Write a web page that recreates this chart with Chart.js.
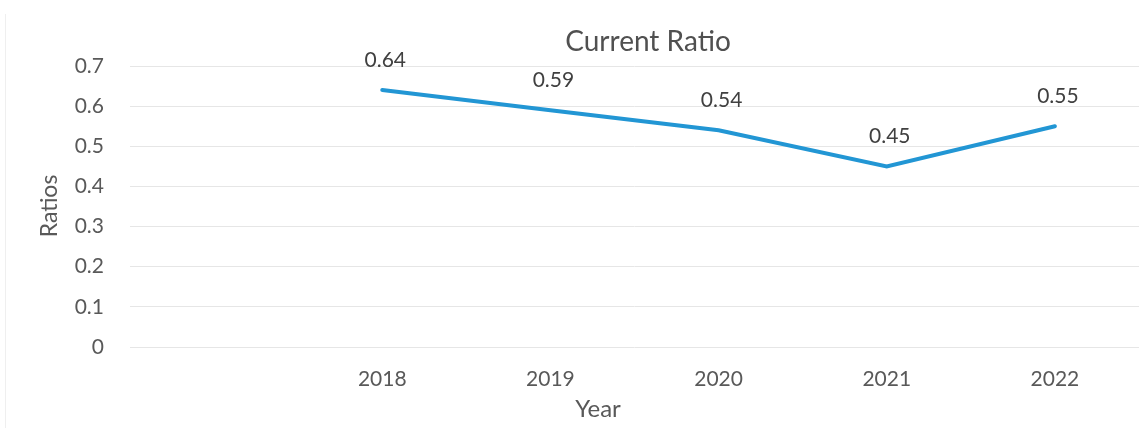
<!DOCTYPE html>
<html>
<head>
<meta charset="utf-8">
<script src="https://cdn.jsdelivr.net/npm/chart.js@4/dist/chart.umd.min.js"></script>
<style>
  html, body { margin: 0; padding: 0; background: #fff; }
  #wrap { width: 1139px; height: 428px; }
</style>
</head>
<body>
<div id="wrap"><canvas id="graph" width="1139" height="428"></canvas></div>
<script>
// first slot is left blank on purpose, the series starts one category in
const years = ['', '2018', '2019', '2020', '2021', '2022'];
const ratios = [null, 0.64, 0.59, 0.54, 0.45, 0.55];
const yTicks = [0, 0.1, 0.2, 0.3, 0.4, 0.5, 0.6, 0.7];

const FONT = 'Lato, "Open Sans", sans-serif';

// titles, point labels and the frame are drawn by hand
const textPlugin = {
    id: 'texts',
    afterDatasetsDraw(chart) {
        const ctx = chart.ctx;
        const meta = chart.getDatasetMeta(0);
        ctx.save();
        ctx.fillStyle = '#404040';
        ctx.textAlign = 'center';
        ctx.textBaseline = 'middle';
        ctx.font = '21px ' + FONT;
        meta.data.forEach((pt, i) => {
            if (ratios[i] == null) return;
            ctx.fillText(ratios[i].toFixed(2), pt.x + 3, pt.y - 30);
        });

        ctx.fillStyle = '#505050';
        ctx.font = '28px ' + FONT;
        ctx.fillText('Current Ratio', 648, 42);

        ctx.fillStyle = '#595959';
        ctx.font = '24px ' + FONT;
        ctx.fillText('Year', 598, 409);

        ctx.font = '23px ' + FONT;
        ctx.translate(50, 206);
        ctx.rotate(-Math.PI / 2);
        ctx.fillText('Ratios', 0, 0);
        ctx.restore();

        ctx.save();
        ctx.strokeStyle = '#efefef';
        ctx.lineWidth = 1;
        ctx.beginPath();
        ctx.moveTo(5.5, 428);
        ctx.lineTo(5.5, 14);
        ctx.stroke();
        ctx.restore();
    }
};

const ctx = document.getElementById('graph');
new Chart(ctx, {
    type: 'line',
    data: {
        labels: years,
        datasets: [{
            data: ratios,
            borderColor: 'rgb(34, 150, 212)',
            borderWidth: 4,
            borderCapStyle: 'round',
            pointRadius: 0,
            tension: 0,
            spanGaps: false
        }]
    },
    options: {
        responsive: false,
        animation: false,
        layout: { padding: { top: 66, right: 0, bottom: 0, left: 0 } },
        plugins: {
            legend: { display: false },
            title: { display: false },
            tooltip: { enabled: false }
        },
        scales: {
            x: {
                offset: true,
                grid: { display: false, drawTicks: false },
                border: { display: false },
                ticks: { color: '#595959', font: { family: FONT, size: 21 }, padding: 20, maxRotation: 0 },
                afterFit: s => { s.height = 81; }
            },
            y: {
                min: 0,
                max: 0.7,
                afterBuildTicks: s => { s.ticks = yTicks.map(v => ({ value: v })); },
                grid: { color: '#e6e6e6', lineWidth: 1, drawTicks: false },
                border: { display: false },
                ticks: {
                    color: '#595959',
                    font: { family: FONT, size: 21 },
                    padding: 26,
                    callback: v => String(Math.round(v * 10) / 10)
                },
                afterFit: s => { s.width = 130; }
            }
        }
    },
    plugins: [textPlugin]
});
</script>
</body>
</html>
